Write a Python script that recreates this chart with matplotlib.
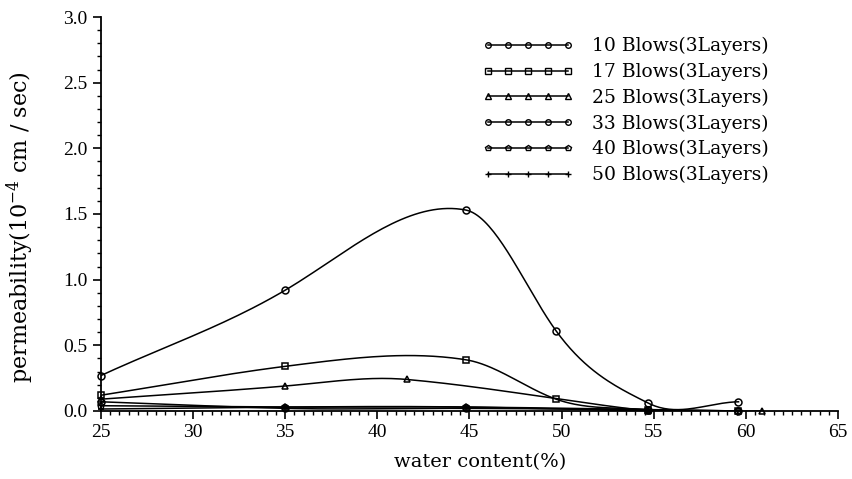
import numpy as np
import matplotlib
matplotlib.use("Agg")
import matplotlib.pyplot as plt
from matplotlib.ticker import MultipleLocator

plt.rcParams['font.family'] = ['Liberation Serif', 'DejaVu Serif']
plt.rcParams['mathtext.fontset'] = 'dejavuserif'

# data
labels = ["10 Blows(3Layers)", "17 Blows(3Layers)", "25 Blows(3Layers)",
          "33 Blows(3Layers)", "40 Blows(3Layers)", "50 Blows(3Layers)"]
markers = ["o", "s", "^", "o", "p", "+"]

x10 = [25, 35, 44.8, 49.7, 54.7, 59.6]
y10 = [0.27, 0.92, 1.53, 0.61, 0.06, 0.07]
x17 = [25, 35, 44.8, 49.7, 54.7, 59.6]
y17 = [0.12, 0.34, 0.39, 0.09, 0.01, 0.0]
x25 = [25, 35, 41.6, 54.7, 60.9]
y25 = [0.09, 0.19, 0.24, 0.0, 0.0]
x33 = [25, 35, 44.8, 54.7, 59.6]
y33 = [0.07, 0.02, 0.02, 0.01, 0.0]
x40 = [25, 35, 44.8, 54.7, 59.6]
y40 = [0.04, 0.03, 0.03, 0.01, 0.0]
x50 = [25, 35, 44.8, 54.7, 59.6]
y50 = [0.015, 0.03, 0.03, 0.0, 0.0]

series = [(x10, y10), (x17, y17), (x25, y25), (x33, y33), (x40, y40), (x50, y50)]


def smooth(x, y, tension=1.3, n=40):
    # cardinal hermite curve through the points
    x = np.asarray(x, float)
    y = np.asarray(y, float)
    m = np.empty_like(y)
    m[0] = (y[1] - y[0]) / (x[1] - x[0])
    m[-1] = (y[-1] - y[-2]) / (x[-1] - x[-2])
    m[1:-1] = tension * (y[2:] - y[:-2]) / (x[2:] - x[:-2])
    xs, ys = [], []
    for i in range(len(x) - 1):
        h = x[i + 1] - x[i]
        t = np.linspace(0, 1, n)
        h00 = 2 * t**3 - 3 * t**2 + 1
        h10 = t**3 - 2 * t**2 + t
        h01 = -2 * t**3 + 3 * t**2
        h11 = t**3 - t**2
        xs.append(x[i] + t * h)
        ys.append(h00 * y[i] + h10 * h * m[i] + h01 * y[i + 1] + h11 * h * m[i + 1])
    return np.concatenate(xs), np.concatenate(ys)


fig = plt.figure(figsize=(8.53, 4.79), dpi=100)
ax = fig.add_axes([0.1184, 0.142, 0.864, 0.8225])

for (xs, ys), m, lab in zip(series, markers, labels):
    sx, sy = smooth(xs, ys)
    ax.plot(sx, sy, color="black", lw=1.1)
    ax.plot(xs, ys, linestyle="none", marker=m, markersize=5, clip_on=False,
            markerfacecolor="none", markeredgecolor="black", markeredgewidth=1.1)
    ax.plot([], [], color="black", lw=1.1, marker=m, markersize=4,
            markerfacecolor="none", markeredgecolor="black", label=lab)

ax.set_xlim(25, 65)
ax.set_ylim(0, 3.0)
ax.xaxis.set_major_locator(MultipleLocator(5))
ax.xaxis.set_minor_locator(MultipleLocator(0.5))
ax.yaxis.set_major_locator(MultipleLocator(0.5))
ax.yaxis.set_minor_locator(MultipleLocator(0.1))
ax.yaxis.set_major_formatter(plt.FormatStrFormatter("%.1f"))
ax.spines["top"].set_visible(False)
ax.spines["right"].set_visible(False)
ax.spines["left"].set_linewidth(1.3)
ax.spines["bottom"].set_linewidth(1.3)
ax.tick_params(which="major", length=6, width=1.2, labelsize=14, direction="out")
ax.tick_params(which="minor", length=3, width=1.0, direction="out")

ax.set_xlabel("water content(%)", fontsize=14, family="DejaVu Serif")
ax.xaxis.set_label_coords(0.514, -0.108)
ax.set_ylabel("permeability(10$^{-4}$ cm / sec)", fontsize=16,
              family="DejaVu Serif")
ax.yaxis.set_label_coords(-0.088, 0.467)

ax.legend(loc="upper left", bbox_to_anchor=(0.507, 0.968), frameon=False,
          prop={"family": "DejaVu Serif", "size": 13.5}, numpoints=5,
          handlelength=4.9, handletextpad=0.95, labelspacing=0.4, borderaxespad=0)

fig.savefig("out.png", dpi=100)
